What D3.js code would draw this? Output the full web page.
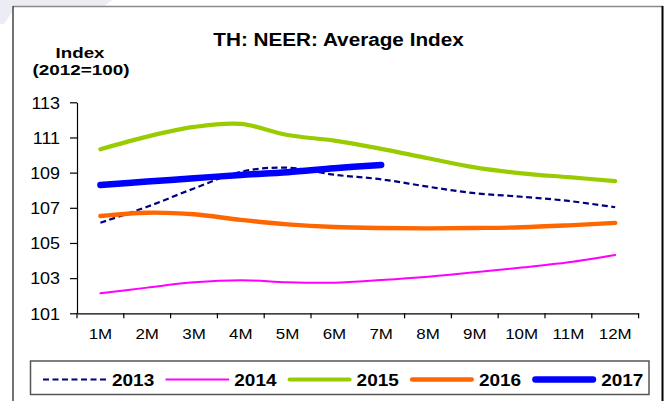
<!DOCTYPE html>
<html>
<head>
<meta charset="utf-8">
<script src="https://cdn.jsdelivr.net/npm/d3@7/dist/d3.min.js"></script>
<style>
  html, body { margin: 0; padding: 0; background: #fff; }
  svg { display: block; }
  text { font-family: "Liberation Sans", Arial, Helvetica, sans-serif; fill: #000; }
</style>
</head>
<body>
<svg id="chart" width="664" height="401"></svg>
<script>
// ---- data ----
const months = ["1M","2M","3M","4M","5M","6M","7M","8M","9M","10M","11M","12M"];
const yTicks = [101, 103, 105, 107, 109, 111, 113];
const seriesNames = ["2013", "2014", "2015", "2016", "2017"];
const values2013 = [106.15, 107.06, 108.10, 109.05, 109.28, 108.88, 108.62, 108.20, 107.83, 107.63, 107.39, 107.03];
const values2014 = [102.14, 102.46, 102.76, 102.88, 102.76, 102.74, 102.89, 103.08, 103.33, 103.60, 103.90, 104.32];
const values2015 = [110.33, 111.05, 111.60, 111.77, 111.14, 110.82, 110.35, 109.82, 109.30, 108.96, 108.74, 108.52];
const values2016 = [106.53, 106.72, 106.63, 106.31, 106.06, 105.91, 105.85, 105.83, 105.85, 105.89, 106.00, 106.14];
const values2017 = [108.30, 108.49, 108.68, 108.87, 109.02, 109.25, 109.44];
const title = "TH: NEER: Average Index";
const yTitle1 = "Index";
const yTitle2 = "(2012=100)";

const seriesValues = [values2013, values2014, values2015, values2016, values2017];
const styles = [
  { color: "#000080", width: 2.2, dash: "6,3.5", cap: "butt" },
  { color: "#FF00FF", width: 2, dash: null, cap: "round" },
  { color: "#99CC00", width: 4.2, dash: null, cap: "round" },
  { color: "#FF6600", width: 4.4, dash: null, cap: "round" },
  { color: "#0000FF", width: 6.5, dash: null, cap: "round" }
];

const svg = d3.select("#chart");

// faint decoration at top-left
svg.append("polygon")
  .attr("points", "0,0 112,0 104,6 12,6 12,12 4,24 0,24")
  .attr("fill", "#ECECF5");

// outer frame
svg.append("line").attr("x1", 13).attr("y1", 6.5).attr("x2", 663).attr("y2", 6.5)
  .attr("stroke", "#8a8a8a").attr("stroke-width", 1.5);
svg.append("line").attr("x1", 13).attr("y1", 6).attr("x2", 13).attr("y2", 401)
  .attr("stroke", "#444").attr("stroke-width", 1.5);
svg.append("line").attr("x1", 662.5).attr("y1", 6).attr("x2", 662.5).attr("y2", 401)
  .attr("stroke", "#000").attr("stroke-width", 2);

// helper for horizontally stretched text
function stext(sel, x, y, str, size, weight, anchor, sx) {
  return sel.append("text")
    .attr("transform", `translate(${x},${y}) scale(${sx},1)`)
    .attr("text-anchor", anchor)
    .style("font-size", size + "px")
    .style("font-weight", weight)
    .text(str);
}

// titles
stext(svg, 338.5, 46, title, 18.5, "bold", "middle", 1.12);
stext(svg, 80, 57.5, yTitle1, 15, "bold", "middle", 1.25);
stext(svg, 81, 75, yTitle2, 15, "bold", "middle", 1.26);

// scales
const x = d3.scaleBand().domain(months).range([77, 638.6]).padding(0);
const y = d3.scaleLinear().domain([101, 113]).range([313.3, 102.3]);

// y axis
const yAxis = svg.append("g").attr("transform", "translate(77,0)")
  .call(d3.axisLeft(y).tickValues(yTicks).tickSize(7).tickSizeOuter(0).tickPadding(10).tickFormat(d3.format("d")));
yAxis.select(".domain").attr("stroke", "#000").attr("stroke-width", 1.2);
yAxis.selectAll(".tick line").attr("stroke", "#000").attr("stroke-width", 1.2);
yAxis.selectAll(".tick text").each(function() {
  const t = d3.select(this);
  const tx = +t.attr("x");
  t.attr("x", 0).attr("dy", null).attr("transform", `translate(${tx},${1.5}) scale(1.12,1)`)
    .attr("dominant-baseline", "middle")
    .style("font-size", "16px").style("font-weight", "normal")
    .style("font-family", "'Liberation Sans', Arial, sans-serif").attr("fill", "#000");
});

// x axis (labels at band centres, ticks at band edges)
const xAxis = svg.append("g").attr("transform", `translate(0,${y(101)})`)
  .call(d3.axisBottom(x).tickSize(0).tickSizeOuter(0).tickPadding(0));
xAxis.select(".domain").attr("stroke", "#000").attr("stroke-width", 1.2);
xAxis.selectAll(".tick line").remove();
xAxis.selectAll(".tick text").each(function() {
  const t = d3.select(this);
  t.attr("y", null).attr("dy", null).attr("transform", "translate(0,26) scale(1.1,1)")
    .style("font-size", "15.4px").style("font-weight", "normal")
    .style("font-family", "'Liberation Sans', Arial, sans-serif").attr("fill", "#000");
});
const edges = months.map(m => x(m)).concat([x(months[months.length - 1]) + x.bandwidth()]);
xAxis.selectAll("line.edge").data(edges).enter().append("line")
  .attr("class", "edge")
  .attr("x1", d => d).attr("x2", d => d).attr("y1", 0).attr("y2", 5)
  .attr("stroke", "#000").attr("stroke-width", 1.2);

// lines
const line = d3.line()
  .x((d, i) => x(months[i]) + x.bandwidth() / 2)
  .y(d => y(d))
  .curve(d3.curveCatmullRom.alpha(0));

const plot = svg.append("g");
seriesValues.forEach((vals, i) => {
  const s = styles[i];
  plot.append("path")
    .datum(vals)
    .attr("d", line)
    .attr("fill", "none")
    .attr("stroke", s.color)
    .attr("stroke-width", s.width)
    .attr("stroke-linecap", s.cap)
    .attr("stroke-linejoin", "round")
    .attr("stroke-dasharray", s.dash);
});

// legend
svg.append("rect").attr("x", 30.5).attr("y", 361).attr("width", 618.5).attr("height", 33.5)
  .attr("fill", "#fff").attr("stroke", "#555").attr("stroke-width", 1.5);
const legendX = d3.scaleLinear().domain([0, 1]).range([43, 165.3]);
const legend = svg.append("g");
seriesNames.forEach((name, i) => {
  const s = styles[i];
  const x0 = legendX(i);
  legend.append("line")
    .attr("x1", x0 + (s.cap === "round" ? s.width / 2 : 0)).attr("x2", x0 + 64 - (s.cap === "round" ? s.width / 2 : 0))
    .attr("y1", 379.5).attr("y2", 379.5)
    .attr("stroke", s.color).attr("stroke-width", s.width)
    .attr("stroke-linecap", s.cap)
    .attr("stroke-dasharray", s.dash);
  stext(legend, x0 + 69, 385.5, name, 16.8, "bold", "start", 1.13);
});
</script>
</body>
</html>
